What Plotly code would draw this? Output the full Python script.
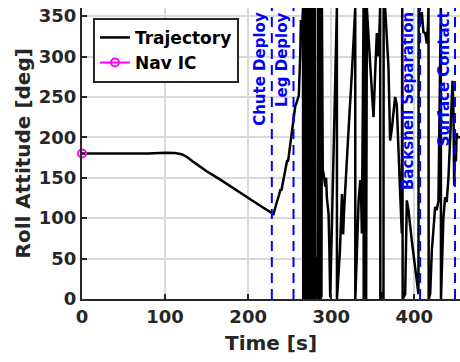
import plotly.graph_objects as go

# ---------------- data ----------------
TIME = [0, 40, 80, 100, 112, 120, 126, 135, 150, 166, 185, 200, 215, 230.5,
        231.5, 234, 237, 239, 240, 242, 245, 247, 248, 250, 253, 255, 256.6, 259, 261, 262.6, 263.5, 264.6, 266.0,
        266.3, 266.9, 267.2, 267.8, 268.1, 268.7, 269.0, 269.6, 269.9, 270.5, 270.8, 271.4, 271.7, 272.3, 272.6,
        273.2, 273.5, 274.1, 274.4, 275.0, 275.3, 275.9, 276.2, 276.8, 277.1, 277.7, 278.0, 278.6, 278.9, 279.5,
        279.8, 280.5, 280.8,
        281.4, 281.9, 282.4, 283.0, 283.5, 284.0,
        284.3, 284.6, 285.2, 285.5, 286.1, 286.4, 287.0, 287.3, 287.9, 288.2, 288.8,
        289.8, 290.8, 292.8, 293.8, 294.8, 296.8, 297.8, 298.8, 302.8, 306.8, 306.9,
        308.8, 310.5, 312.9, 314.3, 315.5, 316.9, 320.9, 324.9, 328.9, 329.0,
        330.9, 332.9, 334.9, 335.9, 336.9, 337.9, 338.9, 339.1, 339.6, 340.1, 340.6, 341.0, 341.5, 342.0, 342.9,
        346.9, 350.9, 352.9, 354.9, 356.9, 358.9, 359.1, 361.5, 362.9, 363.1, 364.0, 364.9,
        368.9, 370.9, 372.9, 376.9, 378.9, 380.9, 383.0, 385.0, 385.5, 386.0, 389.0,
        391.0, 393.0, 397.0, 401.0, 405.0, 405.2, 407.0, 409.0, 411.0, 413.1, 415.1, 416.5, 417.1, 417.3,
        419.1, 421.1, 425.1, 427.0, 429.1, 431.9, 432.1,
        435.0, 437.1, 439.0, 441.1, 443.2, 445.2, 446.0, 447.2, 448.0, 449.2, 450.0, 451.0, 452.0, 455.2]
ROLL = [180, 180, 180, 181, 180.5, 179, 176, 169, 158, 148, 135, 125, 115, 105,
        108, 118, 128, 136, 134, 145, 160, 172, 170, 185, 205, 222, 238, 245, 252, 300, 345, 322, 360,
        0, 360, 2, 358, 0, 360, 4, 360, 0, 357, 1, 360, 0, 360, 3,
        360, 0, 359, 0, 360, 2, 360, 0, 358, 0, 360, 1, 360, 0, 360,
        0, 360, 0,
        35, 52, 20, 48, 10, 0,
        360, 0, 360, 0, 360, 0, 360, 0, 360, 2, 360,
        160, 155, 139, 150, 125, 105, 60, 2, 180, 360, 0,
        30, 60, 130, 80, 110, 140, 210, 280, 360, 0,
        60, 120, 147, 130, 81, 180, 360, 0, 360, 0, 360, 0, 360, 0, 360,
        290, 225, 280, 329, 300, 360, 0, 8, 0, 360, 352, 360,
        287, 196, 210, 250, 240, 196, 130, 81, 360, 0, 6,
        122, 110, 72, 40, 6, 360, 340, 355, 330, 329, 316, 340, 360, 0,
        6, 60, 114, 110, 122, 360, 0,
        100, 126, 120, 150, 200, 250, 270, 230, 140, 196, 170, 205, 200, 200]

NAV_T = [0]
NAV_ROLL = [180]

EVENT_NAMES = ["Chute Deploy", "Leg Deploy", "Backshell Separation", "Surface Contact"]
EVENT_TIMES = [228.5, 254.6, 407.0, 449.0]

X_TICKS = [0, 100, 200, 300, 400]
Y_TICKS = [0, 50, 100, 150, 200, 250, 300, 350]

# ---------------- figure ----------------
DARK = "#262626"
FONT = "DejaVu Sans"

fig = go.Figure()
fig.add_trace(go.Scatter(x=TIME, y=ROLL, mode="lines", name="Trajectory",
                         line=dict(color="black", width=2.5)))
fig.add_trace(go.Scatter(x=NAV_T, y=NAV_ROLL, mode="lines+markers", name="Nav IC",
                         line=dict(color="#ff00ff", width=2),
                         marker=dict(symbol="circle-open", size=8, color="#ff00ff",
                                     line=dict(width=2, color="#ff00ff")),
                         cliponaxis=False))

for name, t in zip(EVENT_NAMES, EVENT_TIMES):
    fig.add_shape(type="line", xref="x", yref="paper", x0=t, x1=t, y0=0, y1=1,
                  line=dict(color="#0000ff", width=2, dash="10px,6px"), layer="above")
    fig.add_annotation(x=t, y=1, xref="x", yref="paper", text=name, textangle=-90,
                       showarrow=False, xanchor="right", yanchor="top", xshift=-1, yshift=-2,
                       font=dict(family=FONT, size=15, color="#0000ff", weight="bold"))

fig.add_annotation(x=0.5, y=-0.151, xref="paper", yref="paper", text="Time [s]",
                   showarrow=False, xanchor="center", yanchor="middle",
                   font=dict(family=FONT, size=20, color=DARK, weight="bold"))
fig.add_annotation(x=-0.1587, y=0.5, xref="paper", yref="paper", text="Roll Attitude [deg]",
                   textangle=-90, showarrow=False, xanchor="center", yanchor="middle",
                   font=dict(family=FONT, size=20, color=DARK, weight="bold"))

axis_common = dict(showline=True, linewidth=2, linecolor=DARK, mirror=False,
                   showgrid=True, gridcolor="#d9d9d9", gridwidth=2, zeroline=False,
                   ticks="inside", ticklen=5, tickwidth=2, tickcolor=DARK,
                   tickfont=dict(family=FONT, size=18, color=DARK, weight="bold"))

fig.update_layout(
    width=460, height=362,
    margin=dict(l=82, r=0, t=8, b=63),
    plot_bgcolor="white", paper_bgcolor="white",
    showlegend=True,
    legend=dict(x=0.029, y=0.966, xanchor="left", yanchor="top",
                bgcolor="white", bordercolor=DARK, borderwidth=2,
                font=dict(family=FONT, size=17, color="black", weight="bold"),
                tracegroupgap=0),
    xaxis=dict(range=[0, 455], tickvals=X_TICKS, **axis_common),
    yaxis=dict(range=[0, 360], tickvals=Y_TICKS, **axis_common),
)

fig.write_html("out.html")
